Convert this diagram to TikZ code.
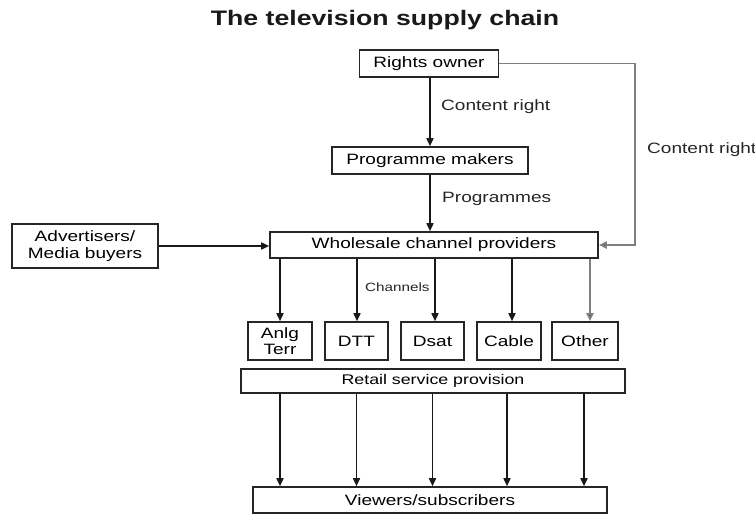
\documentclass[tikz,border=0pt]{standalone}
\usepackage{fontspec}
\setmainfont{Liberation Sans}[FakeStretch=1.27]
\usetikzlibrary{arrows.meta,calc}
\begin{document}
\begin{tikzpicture}[x=1pt,y=-1pt,
  box/.style={draw=black!85,line width=1.6pt,fill=white,inner sep=0pt,align=center,font=\fontsize{15}{16}\selectfont},
  lbl/.style={anchor=west,inner sep=0pt,font=\fontsize{15}{16}\selectfont,text=black!85},
  arr/.style={line width=1.6pt,draw=black!90,-{Triangle[length=8pt,width=7pt]}},
  garr/.style={line width=1.9pt,draw=black!50,-{Triangle[length=8pt,width=7pt,fill=black!90]}}]
\useasboundingbox (0,0) rectangle (755,514);
\node[inner sep=0pt,font=\fontsize{21}{22}\selectfont\bfseries,text=black!90] (title) at (385,20) {The television supply chain};
\node[box,minimum width=139pt,minimum height=27pt] (ro) at (429,63.5) {Rights owner};
\node[box,minimum width=196pt,minimum height=27pt] (pm) at (430,160.5) {Programme makers};
\node[box,minimum width=328pt,minimum height=26pt] (wcp) at (434,245) {Wholesale channel providers};
\node[box,minimum width=146pt,minimum height=44pt,font=\fontsize{15}{17}\selectfont] (adv) at (85,246) {Advertisers/\\Media buyers};
\node[box,minimum width=64pt,minimum height=38pt,font=\fontsize{15}{16}\selectfont] (anlg) at (280,341) {Anlg\\Terr};
\node[box,minimum width=63pt,minimum height=38pt] (dtt) at (356.5,341) {DTT};
\node[box,minimum width=63pt,minimum height=38pt] (dsat) at (432.5,341) {Dsat};
\node[box,minimum width=64pt,minimum height=38pt] (cable) at (509,341) {Cable};
\node[box,minimum width=66pt,minimum height=38pt] (other) at (585,341) {Other};
\node[box,minimum width=384pt,minimum height=24pt,font=\fontsize{14}{15}\selectfont] (rsp) at (433,381) {Retail service provision};
\node[box,minimum width=354pt,minimum height=26pt] (vs) at (430,500) {Viewers/subscribers};
% labels
\node[lbl] (cr1) at (441,107) {Content right};
\node[lbl] (cr2) at (647,150) {Content right};
\node[lbl] (prg) at (442,199) {Programmes};
\node[lbl,font=\fontsize{12}{13}\selectfont] (chn) at (365,287) {Channels};
% connectors
\coordinate (rr) at (635,0);
\draw[arr] (ro.south -| pm) -- (pm.north);
\draw[arr] (pm.south) -- (pm.south |- wcp.north);
\draw[garr] (ro.east) -| (rr |- wcp.east) -- (wcp.east);
\draw[arr] (adv.east) -- (adv.east -| wcp.west);
\draw[arr] (wcp.south -| anlg) -- (anlg.north);
\draw[arr] ([xshift=0.5pt]wcp.south -| dtt) -- ([xshift=0.5pt]dtt.north);
\draw[arr] ([xshift=2.5pt]wcp.south -| dsat) -- ([xshift=2.5pt]dsat.north);
\draw[arr] ([xshift=3pt]wcp.south -| cable) -- ([xshift=3pt]cable.north);
\draw[garr] ([xshift=5pt]wcp.south -| other) -- ([xshift=5pt]other.north);
\draw[arr] (rsp.south -| anlg) -- (vs.north -| anlg);
\draw[arr] (rsp.south -| dtt) -- (vs.north -| dtt);
\draw[arr] (rsp.south -| dsat) -- (vs.north -| dsat);
\draw[arr] ([xshift=-2pt]rsp.south -| cable) -- ([xshift=-2pt]vs.north -| cable);
\draw[arr] ([xshift=-1pt]rsp.south -| other) -- ([xshift=-1pt]vs.north -| other);
\end{tikzpicture}
\end{document}
